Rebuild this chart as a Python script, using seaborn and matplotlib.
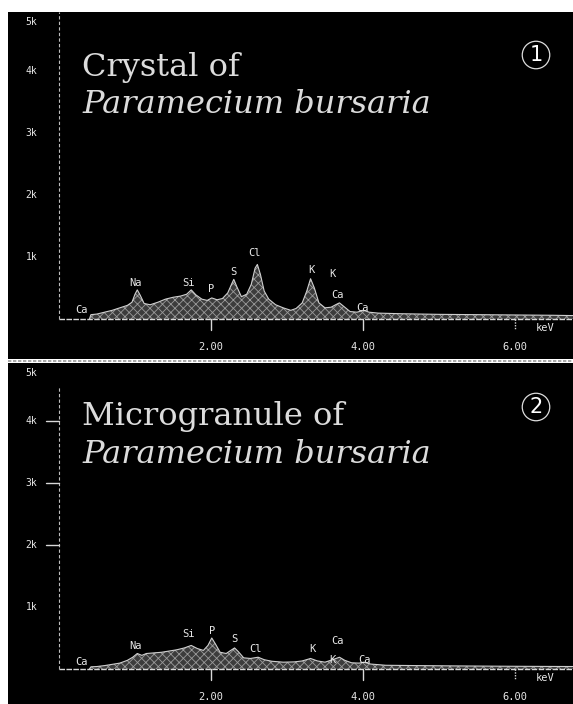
import numpy as np
import pandas as pd
import seaborn as sns
import matplotlib
matplotlib.use("Agg")
import matplotlib.pyplot as plt
from matplotlib.lines import Line2D

# ---------------- data ----------------
# Panel 1: crystal of Paramecium bursaria (energy keV, counts)
crystal_kev = [0.40, 0.42, 0.50, 0.60, 0.70, 0.80, 0.90, 0.96, 1.00, 1.03, 1.07, 1.12,
               1.20, 1.30, 1.40, 1.50, 1.60, 1.68, 1.74, 1.80, 1.88, 1.95, 2.01, 2.08,
               2.15, 2.22, 2.27, 2.30, 2.34, 2.40, 2.47, 2.53, 2.58, 2.61, 2.65, 2.70,
               2.76, 2.85, 2.95, 3.05, 3.12, 3.20, 3.26, 3.31, 3.36, 3.42, 3.50, 3.58,
               3.64, 3.69, 3.75, 3.83, 3.92, 4.01, 4.08, 4.20, 4.50, 5.00, 5.50, 6.00,
               6.50, 6.76]
crystal_counts = [0, 70, 80, 110, 140, 180, 220, 270, 400, 470, 380, 250,
                  230, 270, 320, 350, 370, 400, 470, 390, 320, 300, 340, 310,
                  330, 420, 560, 640, 520, 360, 400, 560, 820, 880, 720, 450,
                  320, 230, 180, 140, 170, 260, 450, 650, 500, 260, 180, 190,
                  230, 260, 200, 120, 110, 140, 110, 95, 85, 75, 70, 65,
                  60, 55]

# Panel 2: microgranule of Paramecium bursaria
granule_kev = [0.40, 0.42, 0.50, 0.60, 0.70, 0.80, 0.90, 0.97, 1.03, 1.09, 1.15, 1.25,
               1.35, 1.45, 1.55, 1.65, 1.74, 1.82, 1.90, 1.96, 2.01, 2.06, 2.12, 2.20,
               2.26, 2.31, 2.36, 2.43, 2.52, 2.62, 2.70, 2.80, 2.95, 3.10, 3.20, 3.31,
               3.40, 3.50, 3.60, 3.69, 3.76, 3.85, 3.95, 4.01, 4.10, 4.30, 4.70, 5.20,
               5.80, 6.30, 6.76]
granule_counts = [0, 35, 40, 55, 75, 95, 140, 190, 250, 220, 250, 260,
                  270, 290, 310, 340, 380, 330, 300, 380, 500, 400, 270, 250,
                  300, 340, 280, 180, 170, 190, 150, 125, 110, 115, 130, 170,
                  130, 110, 150, 190, 140, 100, 95, 110, 80, 60, 55, 50,
                  45, 42, 40]

# peak labels: (text, keV, counts where label sits)
crystal_labels = ["Ca", "Na", "Si", "P", "S", "Cl", "K", "K", "Ca", "Ca"]
crystal_label_kev = [0.30, 1.00, 1.70, 2.00, 2.30, 2.57, 3.32, 3.60, 3.66, 3.99]
crystal_label_cts = [150, 580, 580, 480, 760, 1070, 790, 720, 390, 180]

granule_labels = ["Ca", "Na", "Si", "P", "S", "Cl", "K", "Ca", "K", "Ca"]
granule_label_kev = [0.30, 1.01, 1.70, 2.02, 2.31, 2.59, 3.33, 3.67, 3.60, 4.02]
granule_label_cts = [120, 370, 570, 620, 480, 330, 320, 450, 140, 140]

xtick_vals = [2.0, 4.0, 6.0]
xtick_labels = ["2.00", "4.00", "6.00"]
ytick_vals = [1000, 2000, 3000, 4000]
ytick_labels = ["1k", "2k", "3k", "4k"]

titles_line1 = ["Crystal of", "Microgranule of"]
title_line2 = "Paramecium bursaria"
panel_numbers = ["1", "2"]

# ---------------- figure ----------------
sns.set_theme(style="white")
plt.rcParams["hatch.linewidth"] = 0.6

W, H = 573, 704
fig = plt.figure(figsize=(W / 100, H / 100), dpi=100, facecolor="white")

# pixel geometry of the two black screens
px_left, px_right = 8, 573
panels = [
    dict(top=12, bottom=359, base=319),
    dict(top=363, bottom=704, base=669),
]
px_per_kev = 76.0
x0_px = 59.0
px_per_k = 62.0

xlim = ((px_left - x0_px) / px_per_kev, (px_right - x0_px) / px_per_kev)

datasets = [
    (crystal_kev, crystal_counts, crystal_labels, crystal_label_kev, crystal_label_cts),
    (granule_kev, granule_counts, granule_labels, granule_label_kev, granule_label_cts),
]

mono = "DejaVu Sans Mono"
fg = "#e8e8e8"

# thin grey dotted strip between the two screens
fig.add_artist(Line2D([px_left / W, 1], [1 - 361 / H, 1 - 361 / H],
                      color="#9a9a9a", linewidth=1.2, linestyle=(0, (2, 1))))

for i, p in enumerate(panels):
    left = px_left / W
    width = (px_right - px_left) / W
    bottom = (H - p["bottom"]) / H
    height = (p["bottom"] - p["top"]) / H
    ax = fig.add_axes([left, bottom, width, height])
    ax.set_facecolor("black")
    for s in ax.spines.values():
        s.set_visible(False)
    ylo = -(p["bottom"] - p["base"]) / px_per_k * 1000
    yhi = (p["base"] - p["top"]) / px_per_k * 1000

    kev, cts, labs, lk, lc = datasets[i]
    df = pd.DataFrame({"keV": kev, "counts": cts})
    ax.fill_between(df["keV"], 0, df["counts"], facecolor="#3c3c3c",
                    edgecolor="#9a9a9a", hatch="xxxx", linewidth=0, zorder=2)
    sns.lineplot(data=df, x="keV", y="counts", ax=ax, color="#d0d0d0",
                 linewidth=0.8, zorder=3)
    ax.set_xlabel("")
    ax.set_ylabel("")
    ax.set_xticks([])
    ax.set_yticks([])
    ax.set_xlim(*xlim)
    ax.set_ylim(ylo, yhi)

    # baseline (x axis) and y axis
    ax.plot([0, xlim[1]], [0, 0], color="#d8d8d8", linewidth=1.0,
            linestyle=(0, (4, 1)), zorder=4)
    if i == 0:
        ax.plot([0, 0], [0, yhi], color="#bdbdbd", linewidth=0.8,
                linestyle=(0, (3, 2)), zorder=4)
    else:
        ax.plot([0, 0], [0, yhi - 24 / px_per_k * 1000], color="#bdbdbd",
                linewidth=0.8, linestyle=(0, (3, 2)), zorder=4)
        for yv in ytick_vals[1:]:
            ax.plot([-13 / px_per_kev, 0], [yv, yv], color="#d8d8d8",
                    linewidth=1.0, zorder=4)

    # y labels
    for yv, yl in zip(ytick_vals, ytick_labels):
        ax.text(-0.36, yv, yl, color=fg, fontsize=7, family=mono,
                ha="center", va="center")
    ax.text(-0.36, yhi - 10 / px_per_k * 1000, "5k", color=fg, fontsize=7,
            family=mono, ha="center", va="center")

    # x ticks and labels
    for xv, xl in zip(xtick_vals, xtick_labels):
        ax.plot([xv, xv], [0, -11 / px_per_k * 1000], color="#d8d8d8",
                linewidth=1.0, linestyle="-" if xv < 5 else (0, (1, 1)), zorder=4)
        ax.text(xv, -28 / px_per_k * 1000, xl, color=fg, fontsize=7.5,
                family=mono, ha="center", va="center")
    ax.text(6.4, -9 / px_per_k * 1000, "keV", color=fg, fontsize=7.5,
            family=mono, ha="center", va="center")

    # peak labels
    for t, xk, yc in zip(labs, lk, lc):
        ax.text(xk, yc, t, color=fg, fontsize=7.5, family=mono,
                ha="center", va="center", zorder=5)

    # titles
    tx = (82 - px_left) / (px_right - px_left)
    ax.text(tx, 0.816 if i == 0 else 0.818,
            titles_line1[i], transform=ax.transAxes, color="#dcdcdc",
            fontsize=23, family="DejaVu Serif", ha="left", va="baseline")
    ax.text(tx, 0.709 if i == 0 else 0.707,
            title_line2, transform=ax.transAxes, color="#dcdcdc",
            fontsize=23, family="DejaVu Serif", style="italic",
            ha="left", va="baseline")

    # circled panel number
    cy = (p["bottom"] - (55 if i == 0 else 407)) / (p["bottom"] - p["top"])
    ax.text((536 - px_left) / (px_right - px_left), cy, panel_numbers[i],
            transform=ax.transAxes, color="white", fontsize=15,
            family="DejaVu Sans", ha="center", va="center",
            bbox=dict(boxstyle="circle,pad=0.18", facecolor="black",
                      edgecolor="#dddddd", linewidth=0.9))

fig.savefig("out.png", dpi=100, facecolor="white")
